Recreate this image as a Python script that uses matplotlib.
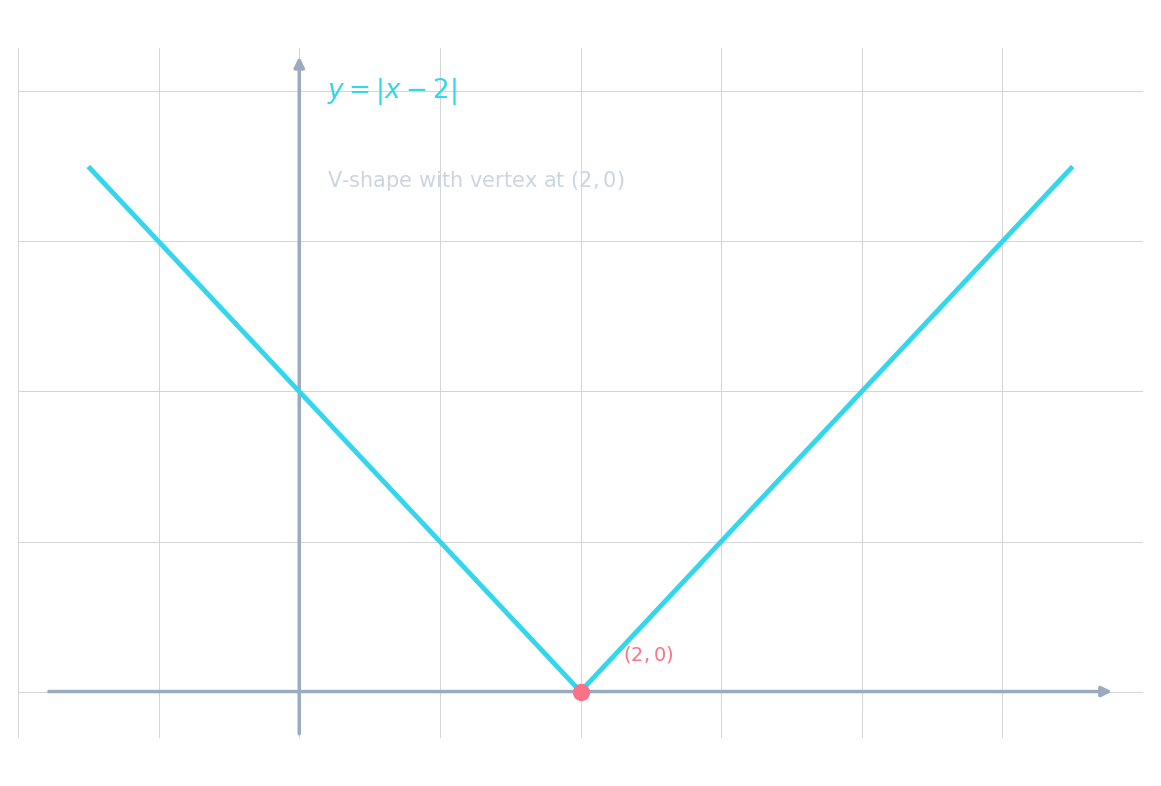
import matplotlib
matplotlib.use("Agg")
import matplotlib.pyplot as plt
import numpy as np

x_vals = [-1.5, 2.0, 5.5]
y_vals = [3.5, 0.0, 3.5]
vertex = (2.0, 0.0)

fig = plt.figure(figsize=(11.61, 7.86), dpi=100)
ax = fig.add_axes([0.0155, 0.061, 0.969, 0.878])
ax.set_xlim(-2, 6)
ax.set_ylim(-0.31, 4.29)
ax.set_xticks(np.arange(-2, 7, 1))
ax.set_yticks(np.arange(0, 5, 1))
ax.grid(True, color="#d4d4d8", linewidth=0.7)
ax.tick_params(length=0, labelbottom=False, labelleft=False)
for s in ax.spines.values():
    s.set_visible(False)

axc = "#9aabc0"
ax.annotate("", xy=(5.8, 0), xytext=(-1.8, 0),
            arrowprops=dict(arrowstyle="-|>", color=axc, lw=2.5, mutation_scale=15))
ax.annotate("", xy=(0, 4.25), xytext=(0, -0.3),
            arrowprops=dict(arrowstyle="-|>", color=axc, lw=2.5, mutation_scale=15))

ax.plot(x_vals, y_vals, color="#33d6ec", lw=3.5, solid_capstyle="butt", zorder=3)
ax.scatter([vertex[0]], [vertex[1]], s=130, color="#fb7185", zorder=4)
ax.text(2.3, 0.25, r"$(2,0)$", color="#fb7185", fontsize=14, va="center")
ax.text(0.2, 4.0, r"$y = |x - 2|$", color="#33d6ec", fontsize=19, va="center")
ax.text(0.2, 3.4, r"V-shape with vertex at $(2,0)$", color="#cbd5e1", fontsize=15, va="center")

fig.savefig("out.png", dpi=100)
